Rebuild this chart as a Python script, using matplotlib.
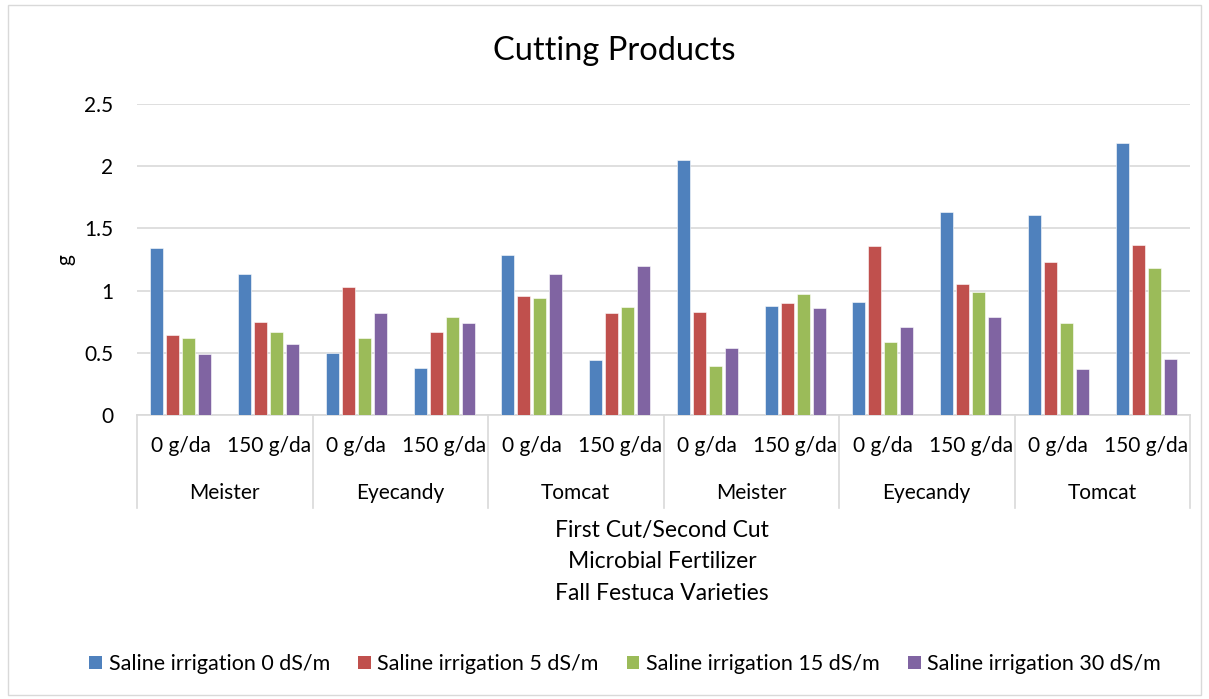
import numpy as np
import matplotlib
matplotlib.use("Agg")
import matplotlib.pyplot as plt
from matplotlib.patches import Rectangle, Patch

plt.rcParams['font.family'] = ['Lato', 'DejaVu Sans']

# data
fertilizer = ['0 g/da', '150 g/da'] * 6
varieties = ['Meister', 'Eyecandy', 'Tomcat', 'Meister', 'Eyecandy', 'Tomcat']
series_names = ['Saline irrigation 0 dS/m', 'Saline irrigation 5 dS/m',
                'Saline irrigation 15 dS/m', 'Saline irrigation 30 dS/m']
saline_0 = [1.34, 1.13, 0.50, 0.38, 1.29, 0.44, 2.05, 0.88, 0.91, 1.63, 1.61, 2.19]
saline_5 = [0.64, 0.75, 1.03, 0.67, 0.96, 0.82, 0.83, 0.90, 1.36, 1.05, 1.23, 1.37]
saline_15 = [0.62, 0.67, 0.62, 0.79, 0.94, 0.87, 0.39, 0.97, 0.59, 0.99, 0.74, 1.18]
saline_30 = [0.49, 0.57, 0.82, 0.74, 1.13, 1.20, 0.54, 0.86, 0.71, 0.79, 0.37, 0.45]
colors = ['#4F81BD', '#C0504D', '#9BBB59', '#8064A2']

W, H = 1209, 699
fig = plt.figure(figsize=(W / 100, H / 100), dpi=100)
fig.patches.append(Rectangle((8 / W, 4 / H), (1201 - 8) / W, (694 - 4) / H,
                             transform=fig.transFigure, fill=False,
                             edgecolor='#D9D9D9', linewidth=1))

ax = fig.add_axes([137 / W, 1 - 415 / H, (1190 - 137) / W, (415 - 104) / H])

x = np.arange(len(fertilizer))
pitch = 0.182
bw = 0.148
all_series = [saline_0, saline_5, saline_15, saline_30]
for i, (vals, c) in enumerate(zip(all_series, colors)):
    ax.bar(x + (i - 1.5) * pitch, vals, width=bw, color=c, edgecolor='white',
           linewidth=0.4, zorder=3)

ax.set_xlim(-0.5, len(fertilizer) - 0.5)
ax.set_ylim(0, 2.5)
ax.set_yticks(np.arange(0, 2.51, 0.5))
ax.set_yticklabels(['0', '0.5', '1', '1.5', '2', '2.5'], fontsize=15)
ax.yaxis.grid(True, color='#D9D9D9', linewidth=1.2, zorder=0)
ax.tick_params(axis='y', length=0, pad=17)
for s in ['top', 'right', 'left']:
    ax.spines[s].set_visible(False)
ax.spines['bottom'].set_color('#D9D9D9')
ax.spines['bottom'].set_linewidth(1.2)
ax.set_xticks([])

# two rows of category labels under the axis
trans = ax.get_xaxis_transform()
ph = 415 - 104
for i, lab in enumerate(fertilizer):
    ax.text(i, -(446 - 415) / ph, lab, transform=trans, ha='center',
            va='center', fontsize=15)
for j, v in enumerate(varieties):
    ax.text(2 * j + 0.5, -(493 - 415) / ph, v, transform=trans, ha='center',
            va='center', fontsize=15)
for b in range(0, len(fertilizer) + 1, 2):
    ax.plot([b - 0.5, b - 0.5], [0, -(508 - 415) / ph], transform=trans,
            color='#D9D9D9', linewidth=1.2, clip_on=False)

fig.text(65 / W, 1 - 260 / H, 'g', rotation=90, ha='center', va='center',
         fontsize=15)
fig.text(614 / W, 1 - 51 / H, 'Cutting Products', ha='center', va='center',
         fontsize=23.5)
for k, line in enumerate(['First Cut/Second Cut', 'Microbial Fertilizer',
                          'Fall Festuca Varieties']):
    fig.text(662 / W, 1 - (530 + 32 * k) / H, line, ha='center', va='center',
             fontsize=16.5)

handles = [Patch(facecolor=c, edgecolor='none') for c in colors]
fig.legend(handles, series_names, loc='center', ncol=4,
           bbox_to_anchor=(625 / W, 1 - 664 / H), frameon=False, fontsize=15.5,
           handlelength=0.6, handleheight=0.6, handletextpad=0.3,
           columnspacing=1.3)

fig.savefig('out.png', dpi=100)
